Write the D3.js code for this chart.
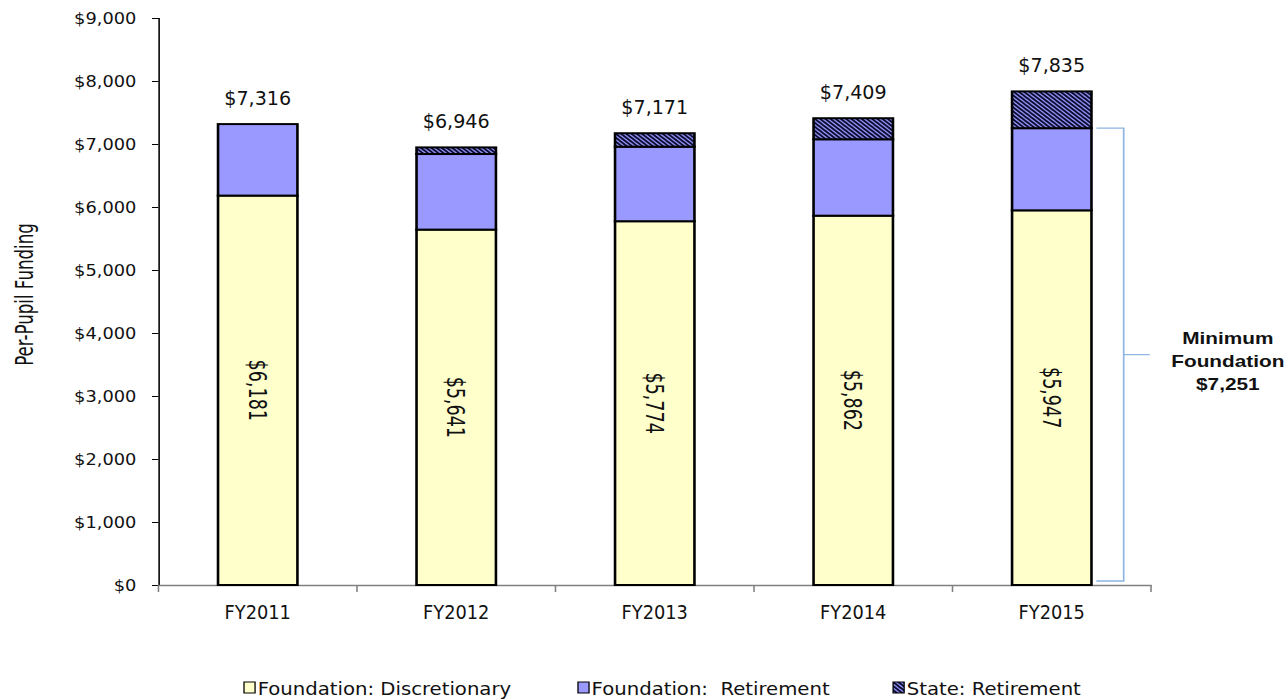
<!DOCTYPE html>
<html>
<head>
<meta charset="utf-8">
<script src="https://cdn.jsdelivr.net/npm/d3@7"></script>
<style>
  html, body { margin: 0; padding: 0; background: #fff; overflow: hidden; }
  svg { display: block; }
  .tah { font-family: "DejaVu Sans", sans-serif; font-stretch: condensed; white-space: pre; }
  .ver { font-family: "DejaVu Sans", Verdana, sans-serif; }
</style>
</head>
<body>
<div id="chart"></div>
<script>
// Per-pupil funding by fiscal year, stacked by funding source
const categories = ["FY2011", "FY2012", "FY2013", "FY2014", "FY2015"];
const discretionary = [6181, 5641, 5774, 5862, 5947];
const foundationRetirement = [1135, 1200, 1183, 1213, 1304];
const stateRetirement = [0, 105, 214, 334, 584];
const seriesNames = ["Foundation: Discretionary", "Foundation:  Retirement", "State: Retirement"];
const yTicks = [0, 1000, 2000, 3000, 4000, 5000, 6000, 7000, 8000, 9000];
const minimumFoundation = 7251;
const annotationLines = ["Minimum", "Foundation", "$7,251"];

// Page size; the drawing is laid out on a narrower canvas and widened to fill it
const W = 1287, H = 700, XS = 1.3;
const IW = W / XS;

const svg = d3.select("#chart").append("svg")
  .attr("width", W).attr("height", H)
  .attr("viewBox", `0 0 ${IW} ${H}`)
  .attr("preserveAspectRatio", "none");

// Narrow a text run along its baseline by a factor
function squeeze(sel, r) {
  sel.each(function () {
    const w = this.getComputedTextLength();
    this.setAttribute("textLength", w * r);
    this.setAttribute("lengthAdjust", "spacingAndGlyphs");
  });
}

const defs = svg.append("defs");
const pat = defs.append("pattern")
  .attr("id", "hatch")
  .attr("patternUnits", "userSpaceOnUse")
  .attr("width", 4).attr("height", 4);
pat.append("rect").attr("width", 4).attr("height", 4).attr("fill", "#9999FF");
pat.append("path")
  .attr("d", "M-1,-1 L5,5 M-1,3 L1,5 M3,-1 L5,1")
  .attr("stroke", "#0a0a30").attr("stroke-width", 1.6);

const fills = ["#FFFFCC", "#9999FF", "url(#hatch)"];

const plot = { left: 121.9, right: 885.4, top: 18, bottom: 585 };

const x = d3.scaleBand()
  .domain(categories)
  .range([plot.left, plot.right])
  .paddingInner(0.6)
  .paddingOuter(0.3);

const y = d3.scaleLinear()
  .domain([0, 9000])
  .range([plot.bottom, plot.top]);

// Stacked data
const rows = categories.map((c, i) => ({
  cat: c,
  d: discretionary[i],
  f: foundationRetirement[i],
  s: stateRetirement[i]
}));
const stack = d3.stack().keys(["d", "f", "s"]);
const layers = stack(rows);

// Y axis
const yAxis = svg.append("g")
  .attr("transform", `translate(${plot.left},0)`)
  .call(d3.axisLeft(y).tickValues(yTicks).tickSize(5).tickPadding(12)
    .tickFormat(d => "$" + d3.format(",")(d)));
yAxis.select(".domain").attr("stroke", "#000").attr("stroke-width", 1.2);
yAxis.selectAll(".tick line").attr("stroke", "#000");
yAxis.selectAll("text")
  .attr("class", "ver")
  .attr("font-size", 16.5)
  .attr("fill", "#111");
squeeze(yAxis.selectAll("text"), 0.83);

// X axis
const xAxis = svg.append("g")
  .attr("transform", `translate(0,${plot.bottom})`)
  .call(d3.axisBottom(x).tickSize(0).tickPadding(20));
xAxis.select(".domain").attr("stroke", "#808080").attr("stroke-width", 1.5);
xAxis.selectAll("text")
  .attr("class", "tah")
  .attr("font-size", 19.5)
  .attr("fill", "#111");
squeeze(xAxis.selectAll("text"), 0.78);
// Category separator ticks at band edges
const edges = categories.map(c => x(c) - x.step() * x.paddingInner() / 2)
  .concat([plot.right]);
svg.append("g").selectAll("line")
  .data(edges).join("line")
  .attr("x1", d => d).attr("x2", d => d)
  .attr("y1", plot.bottom).attr("y2", plot.bottom + 7)
  .attr("stroke", "#808080").attr("stroke-width", 1.2);

// Bars
const gBars = svg.append("g");
layers.forEach((layer, li) => {
  gBars.selectAll(null)
    .data(layer.filter(d => d[1] - d[0] > 0))
    .join("rect")
    .attr("x", d => x(d.data.cat))
    .attr("width", x.bandwidth())
    .attr("y", d => y(d[1]))
    .attr("height", d => y(d[0]) - y(d[1]))
    .attr("fill", fills[li])
    .attr("stroke", "#000")
    .attr("stroke-width", 2);
});

// Total labels above bars
const totals = svg.append("g").selectAll("text")
  .data(rows).join("text")
  .attr("class", "tah")
  .attr("x", d => x(d.cat) + x.bandwidth() / 2)
  .attr("y", d => y(d.d + d.f + d.s) - 19)
  .attr("text-anchor", "middle")
  .attr("font-size", 19)
  .attr("fill", "#111")
  .text(d => d3.format("$,")(d.d + d.f + d.s));
squeeze(totals, 0.86);

// Discretionary values inside bars, rotated
svg.append("g").selectAll("text")
  .data(rows).join("text")
  .attr("class", "tah")
  .attr("transform", d => `translate(${x(d.cat) + x.bandwidth() / 2},${(y(0) + y(d.d)) / 2}) rotate(90)`)
  .attr("text-anchor", "middle")
  .attr("dominant-baseline", "central")
  .attr("font-size", 19.5)
  .attr("fill", "#111")
  .text(d => d3.format("$,")(d.d));

// Y axis title
svg.append("text")
  .attr("class", "tah")
  .attr("transform", `translate(19,${(plot.top + plot.bottom) / 2 - 7}) rotate(-90)`)
  .attr("text-anchor", "middle")
  .attr("dominant-baseline", "central")
  .attr("font-size", 18.5)
  .attr("fill", "#111")
  .text("Per-Pupil Funding");

// Bracket marking the minimum foundation amount for the last year
const last = categories[categories.length - 1];
const bx0 = x(last) + x.bandwidth() + 3.8;
const bx1 = bx0 + 21;
const byTop = y(minimumFoundation);
const byBot = y(0) - 4;
const byMid = (byTop + byBot) / 2;
svg.append("path")
  .attr("d", `M${bx0},${byTop} H${bx1} V${byBot} H${bx0} M${bx1},${byMid} H${bx1 + 20}`)
  .attr("fill", "none")
  .attr("stroke", "#8DB4E2")
  .attr("stroke-width", 1.3);

svg.append("g").selectAll("text")
  .data(annotationLines).join("text")
  .attr("x", 944.5)
  .attr("y", (d, i) => byMid - 11 + i * 23)
  .attr("text-anchor", "middle")
  .attr("font-family", "'Liberation Sans', Arial, sans-serif")
  .attr("font-weight", "bold")
  .attr("font-size", 16)
  .attr("fill", "#111")
  .text(d => d);

// Legend
const legendX = [187.7, 444.6, 687];
const lg = svg.append("g").selectAll("g")
  .data(seriesNames).join("g")
  .attr("transform", (d, i) => `translate(${legendX[i]},682)`);
lg.append("rect")
  .attr("width", 8.5).attr("height", 11)
  .attr("fill", (d, i) => fills[i])
  .attr("stroke", "#000").attr("stroke-width", 1);
const lgText = lg.append("text")
  .attr("class", "tah")
  .attr("x", 10.5)
  .attr("y", 13)
  .attr("font-size", 18.5)
  .attr("fill", "#111")
  .text(d => d);
squeeze(lgText, 0.91);
</script>
</body>
</html>
